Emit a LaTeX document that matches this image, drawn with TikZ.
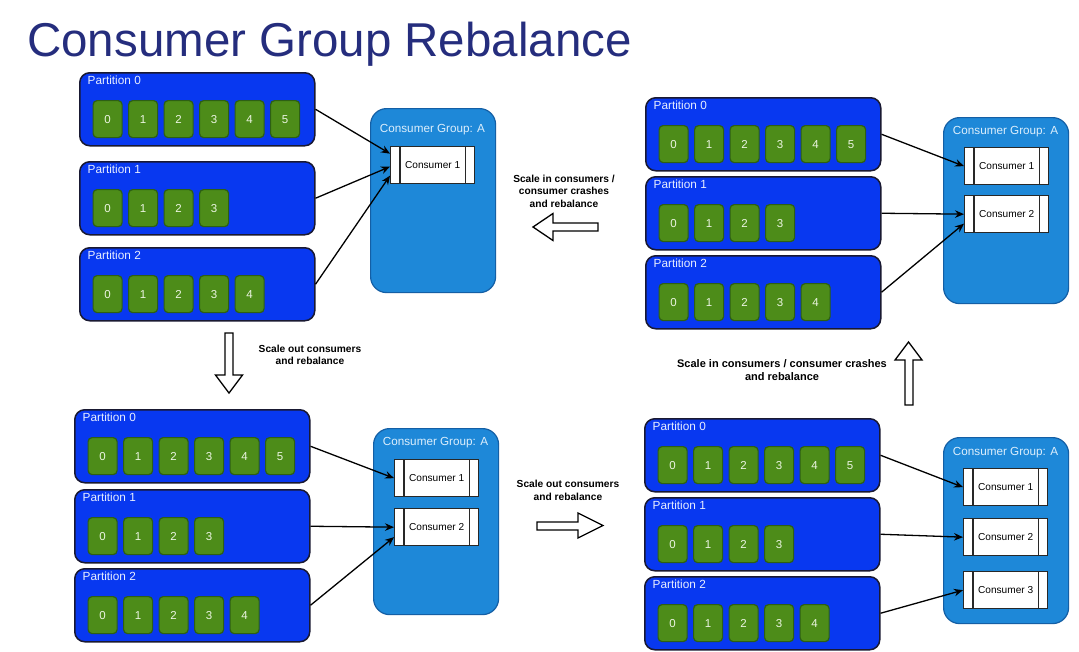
\documentclass[tikz,border=0pt]{standalone}
\usepackage{fontspec}
\setmainfont{Liberation Sans}
\usetikzlibrary{arrows.meta,calc}
\definecolor{titlecol}{RGB}{37,45,125}
\definecolor{partblue}{RGB}{8,56,240}
\definecolor{partborder}{RGB}{25,25,50}
\definecolor{plabeltext}{RGB}{232,238,255}
\definecolor{recgreen}{RGB}{77,140,25}
\definecolor{recborder}{RGB}{45,95,20}
\definecolor{rectext}{RGB}{236,245,226}
\definecolor{cgblue}{RGB}{30,136,216}
\definecolor{cgborder}{RGB}{20,95,165}
\definecolor{cgtext}{RGB}{220,238,252}
\definecolor{consborder}{RGB}{40,40,40}
\tikzset{
  part/.style={draw=partborder, line width=1.5pt, fill=partblue, rounded corners=10pt,
    minimum width=235pt, minimum height=73pt, anchor=north west, inner sep=0pt},
  plabel/.style={anchor=west, inner sep=0pt, text=plabeltext, font=\fontsize{11.8}{13}\selectfont},
  rec/.style={draw=recborder, line width=1.2pt, fill=recgreen, rounded corners=4pt,
    minimum width=29pt, minimum height=37pt, anchor=north west, inner sep=0pt,
    text=rectext, font=\fontsize{11.5}{12}\selectfont},
  cg/.style={draw=cgborder, line width=1.2pt, fill=cgblue, rounded corners=16pt,
    anchor=north west, inner sep=0pt, minimum width=125pt},
  cgtitle/.style={inner sep=0pt, text=cgtext, font=\fontsize{11.7}{14}\selectfont},
  cons/.style={draw=consborder, line width=1.3pt, fill=white, minimum width=84pt,
    minimum height=37pt, anchor=north west, inner sep=0pt, font=\fontsize{10.1}{12}\selectfont},
  consline/.style={draw=consborder, line width=1.3pt},
  link/.style={line width=1.3pt, -{Stealth[length=9pt,width=7.5pt]}},
  bigarrow/.style={draw=black, line width=1.3pt, fill=white, line join=miter},
  note/.style={font=\bfseries\fontsize{10.2}{12.5}\selectfont, align=center, inner sep=0pt}
}
\newcommand\mkpart[5]{%
  \node[part] (#1) at (#2,#3) {};
  \node[plabel] (#1l) at ($(#1.north west)+(8.5,8)$) {#4};
  \foreach \i in {0,...,#5} {\node[rec] (#1r\i) at ({#2+13.5+35.5*\i},{#3+28}) {\i};}
}
\newcommand\mkcons[4]{%
  \node[cons] (#1) at (#2,#3) {#4};
  \draw[consline] ([xshift=10pt]#1.north west) -- ([xshift=10pt]#1.south west);
  \draw[consline] ([xshift=-10pt]#1.north east) -- ([xshift=-10pt]#1.south east);
}
\begin{document}
\begin{tikzpicture}[x=1pt,y=-1pt]
\fill[white] (0,0) rectangle (1079,651);
\useasboundingbox (0,0) rectangle (1079,651);
\node[anchor=base west, inner sep=0pt, text=titlecol, font=\fontsize{47.5}{50}\selectfont] (title) at (27,56) {Consumer Group Rebalance};

% ---------- top left ----------
\mkpart{tlp0}{79}{72}{Partition 0}{5}
\mkpart{tlp1}{79}{161}{Partition 1}{3}
\mkpart{tlp2}{79}{247}{Partition 2}{4}
\node[cg, minimum height=184pt] (tlcg) at (370,108) {};
\node[cgtitle] (tlcgt) at (432.5,130) {Consumer Group: A};
\mkcons{tlc1}{390}{146}{Consumer 1}
\draw[link] (tlp0.east) -- ([yshift=11.5pt]tlc1.west);
\draw[link] (tlp1.east) -- ([yshift=-1.5pt]tlc1.west);
\draw[link] (tlp2.east) -- ([yshift=-10.5pt]tlc1.west);

% ---------- top right ----------
\mkpart{trp0}{645}{97}{Partition 0}{5}
\mkpart{trp1}{645}{176}{Partition 1}{3}
\mkpart{trp2}{645}{255}{Partition 2}{4}
\node[cg, minimum height=186pt] (trcg) at (943,117) {};
\node[cgtitle] (trcgt) at (1005.5,132) {Consumer Group: A};
\mkcons{trc1}{964}{147}{Consumer 1}
\mkcons{trc2}{964}{195}{Consumer 2}
\draw[link] (trp0.east) -- (trc1.west);
\draw[link] (trp1.east) -- (trc2.west);
\draw[link] (trp2.east) -- ([yshift=-9.5pt]trc2.west);

% ---------- bottom left ----------
\mkpart{blp0}{74}{409}{Partition 0}{5}
\mkpart{blp1}{74}{489}{Partition 1}{3}
\mkpart{blp2}{74}{568}{Partition 2}{4}
\node[cg, minimum height=186pt] (blcg) at (373,428) {};
\node[cgtitle] (blcgt) at (435.5,443) {Consumer Group: A};
\mkcons{blc1}{394}{459}{Consumer 1}
\mkcons{blc2}{394}{508}{Consumer 2}
\draw[link] (blp0.east) -- (blc1.west);
\draw[link] (blp1.east) -- (blc2.west);
\draw[link] (blp2.east) -- ([yshift=-10pt]blc2.west);

% ---------- bottom right ----------
\mkpart{brp0}{644}{418}{Partition 0}{5}
\mkpart{brp1}{644}{497}{Partition 1}{3}
\mkpart{brp2}{644}{576}{Partition 2}{4}
\node[cg, minimum height=186pt] (brcg) at (943,437) {};
\node[cgtitle] (brcgt) at (1005.5,453) {Consumer Group: A};
\mkcons{brc1}{963}{468}{Consumer 1}
\mkcons{brc2}{963}{518}{Consumer 2}
\mkcons{brc3}{963}{571}{Consumer 3}
\draw[link] (brp0.east) -- (brc1.west);
\draw[link] (brp1.east) -- (brc2.west);
\draw[link] (brp2.east) -- (brc3.west);

% ---------- transition arrows ----------
\draw[bigarrow] (598,223) -- (553,223) -- (553,213.5) -- (533,227) -- (553,240.5) -- (553,231) -- (598,231) -- cycle;
\node[note] (n1) at (564,191) {Scale in consumers /\\consumer crashes\\and rebalance};

\draw[bigarrow] (225,333) -- (233,333) -- (233,375) -- (242.5,375) -- (229,393) -- (215.5,375) -- (225,375) -- cycle;
\node[note] (n2) at (310,355) {Scale out consumers\\and rebalance};

\draw[bigarrow] (905,405) -- (905,360) -- (895,360) -- (908.5,342) -- (922,360) -- (913,360) -- (913,405) -- cycle;
\node[note, font=\bfseries\fontsize{11}{12.5}\selectfont] (n3) at (782,370) {Scale in consumers / consumer crashes\\and rebalance};

\draw[bigarrow] (537,522) -- (578,522) -- (578,513) -- (603,525.5) -- (578,538) -- (578,530) -- (537,530) -- cycle;
\node[note] (n4) at (568,490.5) {Scale out consumers\\and rebalance};
\end{tikzpicture}
\end{document}
